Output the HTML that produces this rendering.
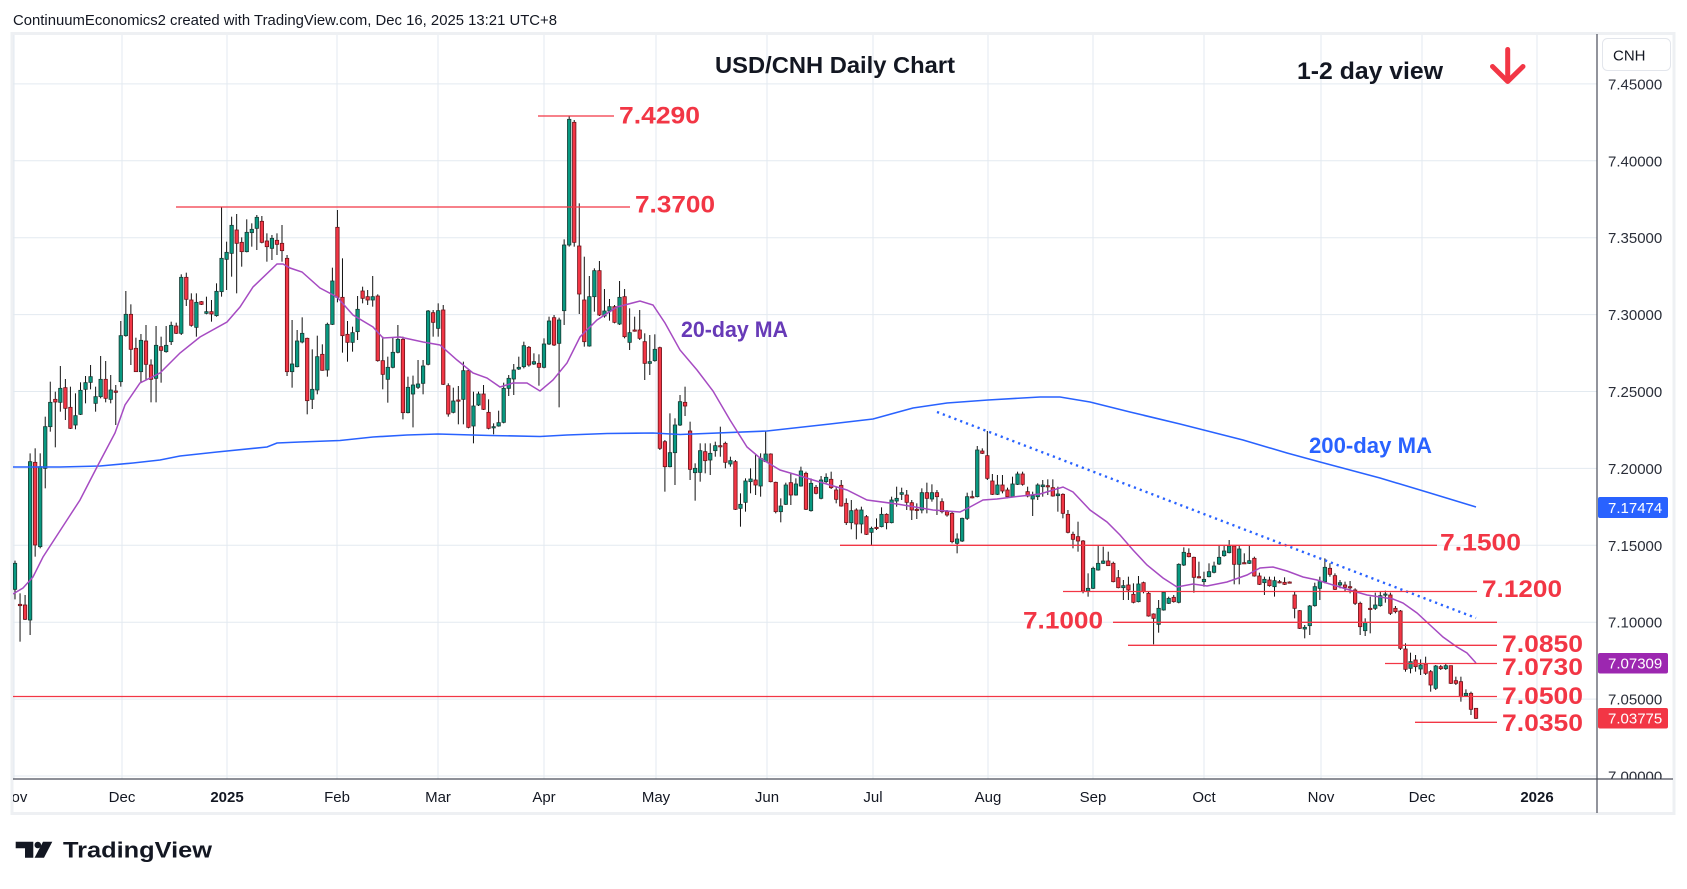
<!DOCTYPE html>
<html>
<head>
<meta charset="utf-8">
<style>
html,body{margin:0;padding:0;background:#ffffff;}
svg{display:block;}
text{font-family:"Liberation Sans",Arial,sans-serif;}
</style>
</head>
<body>
<svg id="chart" xmlns="http://www.w3.org/2000/svg" width="1687" height="889" viewBox="0 0 1687 889">
<defs>
<clipPath id="plot"><rect x="13" y="34" width="1584" height="745"/></clipPath>
<clipPath id="paxis"><rect x="1598" y="34" width="75" height="745"/></clipPath>
<clipPath id="taxis"><rect x="13" y="780" width="1584" height="33"/></clipPath>
</defs>
<rect x="0" y="0" width="1687" height="889" fill="#ffffff"/>

<!-- header -->
<text x="13" y="25" font-size="14.5" fill="#131722" textLength="544" lengthAdjust="spacingAndGlyphs">ContinuumEconomics2 created with TradingView.com, Dec 16, 2025 13:21 UTC+8</text>

<!-- panel border -->
<rect x="12" y="33.5" width="1662" height="780" fill="none" stroke="#eef0f3" stroke-width="3"/>

<!-- grid -->
<g stroke="#e3eaf0" stroke-width="1">
<line x1="13" y1="83.9" x2="1597" y2="83.9"/>
<line x1="13" y1="160.8" x2="1597" y2="160.8"/>
<line x1="13" y1="237.7" x2="1597" y2="237.7"/>
<line x1="13" y1="314.6" x2="1597" y2="314.6"/>
<line x1="13" y1="391.5" x2="1597" y2="391.5"/>
<line x1="13" y1="468.4" x2="1597" y2="468.4"/>
<line x1="13" y1="545.3" x2="1597" y2="545.3"/>
<line x1="13" y1="622.2" x2="1597" y2="622.2"/>
<line x1="13" y1="699.1" x2="1597" y2="699.1"/>
<line x1="13" y1="776" x2="1597" y2="776"/>
<line x1="14" y1="35" x2="14" y2="779"/>
<line x1="122" y1="35" x2="122" y2="779"/>
<line x1="227" y1="35" x2="227" y2="779"/>
<line x1="337" y1="35" x2="337" y2="779"/>
<line x1="438" y1="35" x2="438" y2="779"/>
<line x1="544" y1="35" x2="544" y2="779"/>
<line x1="656" y1="35" x2="656" y2="779"/>
<line x1="767" y1="35" x2="767" y2="779"/>
<line x1="873" y1="35" x2="873" y2="779"/>
<line x1="988" y1="35" x2="988" y2="779"/>
<line x1="1093" y1="35" x2="1093" y2="779"/>
<line x1="1204" y1="35" x2="1204" y2="779"/>
<line x1="1321" y1="35" x2="1321" y2="779"/>
<line x1="1422" y1="35" x2="1422" y2="779"/>
<line x1="1537" y1="35" x2="1537" y2="779"/>
</g>

<g clip-path="url(#plot)">
<g id="candles"></g>

<!-- 200-day MA -->
<polyline fill="none" stroke="#2962ff" stroke-width="1.6" points="13,467 60,467 100,466 133,463 160,460 180,456 217,452 267,447 277,443 300,442 340,440.5 373,437 407,435 438,434 490,435.5 540,436.5 567,435 607,433.5 653,433 680,434.5 767,431 830,424 873,419 913,408 947,403 988,400 1040,397 1060,397 1090,402 1130,412 1180,424 1243,440 1287,453 1320,462 1380,478 1430,493 1476,507"/>

<!-- 20-day MA -->
<polyline fill="none" stroke="#a64bc2" stroke-width="1.5" points="13,594 23,588 33,577 43,557 67,520 80,500 97,467 115,433 125,405 140,383 160,373 180,353 200,337 227,322 240,307 253,287 277,264 283,264 290,268 302,272 320,288 337,297 353,315 373,327 383,338 400,337 423,342 440,345 457,360 473,373 487,378 500,387 513,383 527,383 540,391 553,380 567,363 580,337 597,320 617,307 640,301 653,305 665,323 680,350 697,370 713,391 730,420 747,447 760,458 780,470 797,475 813,480 847,490 867,500 897,504 933,510 960,512 970,507 983,500 997,499 1013,497 1040,494 1063,487 1073,492 1090,510 1107,522 1120,535 1133,550 1147,565 1163,578 1177,587 1193,584 1207,586 1227,582 1247,575 1260,568 1273,567 1287,571 1303,577 1317,580 1333,585 1353,591 1367,595 1380,597 1393,599 1403,603 1417,613 1430,625 1443,637 1457,647 1467,653 1476,663"/>

<!-- dotted trendline -->
<line x1="937" y1="412" x2="1476" y2="618" stroke="#2962ff" stroke-width="2.4" stroke-dasharray="2.2 4"/>

<!-- red horizontal levels -->
<g stroke="#f23645" stroke-width="1.3">
<line x1="538" y1="116" x2="614" y2="116"/>
<line x1="176" y1="207" x2="630" y2="207"/>
<line x1="840" y1="545.3" x2="1437" y2="545.3"/>
<line x1="1063" y1="591.5" x2="1477" y2="591.5"/>
<line x1="1113" y1="622.3" x2="1497" y2="622.3"/>
<line x1="1128" y1="645.3" x2="1497" y2="645.3"/>
<line x1="1385" y1="663.5" x2="1497" y2="663.5"/>
<line x1="12" y1="696.5" x2="1497" y2="696.5"/>
<line x1="1415" y1="722.3" x2="1497" y2="722.3"/>
</g>
</g>

<!-- red level labels -->
<g font-size="24" font-weight="bold" fill="#f23645">
<text x="619" y="123.5" textLength="81" lengthAdjust="spacingAndGlyphs">7.4290</text>
<text x="635" y="212.5" textLength="80" lengthAdjust="spacingAndGlyphs">7.3700</text>
<text x="1440" y="550.5" textLength="81" lengthAdjust="spacingAndGlyphs">7.1500</text>
<text x="1482" y="597" textLength="80" lengthAdjust="spacingAndGlyphs">7.1200</text>
<text x="1023" y="628.5" textLength="80" lengthAdjust="spacingAndGlyphs">7.1000</text>
<text x="1502" y="652" textLength="81" lengthAdjust="spacingAndGlyphs">7.0850</text>
<text x="1502" y="675" textLength="81" lengthAdjust="spacingAndGlyphs">7.0730</text>
<text x="1502" y="704" textLength="81" lengthAdjust="spacingAndGlyphs">7.0500</text>
<text x="1502" y="731" textLength="81" lengthAdjust="spacingAndGlyphs">7.0350</text>
</g>

<!-- MA labels -->
<text x="681" y="337" font-size="22.5" font-weight="bold" fill="#673ab7" textLength="107" lengthAdjust="spacingAndGlyphs">20-day MA</text>
<text x="1309" y="453" font-size="22" font-weight="bold" fill="#2962ff" textLength="123" lengthAdjust="spacingAndGlyphs">200-day MA</text>

<!-- title -->
<text x="715" y="73" font-size="23" font-weight="bold" fill="#131722" textLength="240" lengthAdjust="spacingAndGlyphs">USD/CNH Daily Chart</text>
<text x="1297" y="79" font-size="24" font-weight="bold" fill="#131722" textLength="146" lengthAdjust="spacingAndGlyphs">1-2 day view</text>

<!-- arrow -->
<g stroke="#f23645" stroke-width="5" stroke-linecap="round" stroke-linejoin="round" fill="none">
<line x1="1507.7" y1="49.5" x2="1507.7" y2="81"/>
<polyline points="1492.5,66.5 1507.7,81.5 1523,66.5"/>
</g>

<!-- axes lines -->
<line x1="1597" y1="34" x2="1597" y2="813" stroke="#4a4e5a" stroke-width="1.2"/>
<line x1="13" y1="779" x2="1673" y2="779" stroke="#4a4e5a" stroke-width="1.2"/>

<!-- price axis labels -->
<g clip-path="url(#paxis)" font-size="15" fill="#2a2e39">
<text x="1608" y="89.4">7.45000</text>
<text x="1608" y="166.3">7.40000</text>
<text x="1608" y="243.2">7.35000</text>
<text x="1608" y="320.1">7.30000</text>
<text x="1608" y="397">7.25000</text>
<text x="1608" y="473.9">7.20000</text>
<text x="1608" y="550.8">7.15000</text>
<text x="1608" y="627.7">7.10000</text>
<text x="1608" y="704.6">7.05000</text>
<text x="1608" y="781.5">7.00000</text>
</g>

<!-- CNH box -->
<rect x="1602.5" y="38.5" width="68" height="32" rx="5" fill="#ffffff" stroke="#e3e6ec" stroke-width="1"/>
<text x="1613" y="60.5" font-size="15" fill="#131722">CNH</text>

<!-- colored price tags -->
<rect x="1598" y="497" width="70" height="21" rx="2" fill="#2962ff"/>
<text x="1608" y="513" font-size="15" fill="#ffffff">7.17474</text>
<rect x="1598" y="653" width="70" height="20.5" rx="2" fill="#9c27b0"/>
<text x="1608" y="668.7" font-size="15" fill="#ffffff">7.07309</text>
<rect x="1598" y="708" width="70" height="20.5" rx="2" fill="#f23645"/>
<text x="1608" y="723.7" font-size="15" fill="#ffffff">7.03775</text>

<!-- time axis labels -->
<g clip-path="url(#taxis)" font-size="15" fill="#131722" text-anchor="middle">
<text x="14" y="802">Nov</text>
<text x="122" y="802">Dec</text>
<text x="227" y="802" font-weight="bold">2025</text>
<text x="337" y="802">Feb</text>
<text x="438" y="802">Mar</text>
<text x="544" y="802">Apr</text>
<text x="656" y="802">May</text>
<text x="767" y="802">Jun</text>
<text x="873" y="802">Jul</text>
<text x="988" y="802">Aug</text>
<text x="1093" y="802">Sep</text>
<text x="1204" y="802">Oct</text>
<text x="1321" y="802">Nov</text>
<text x="1422" y="802">Dec</text>
<text x="1537" y="802" font-weight="bold">2026</text>
</g>

<!-- TradingView logo -->
<g fill="#131722">
<path d="M15.7 841.7 H33.3 V857.7 H25 V848.3 H15.7 Z"/>
<circle cx="37.8" cy="845" r="3.3"/>
<path d="M43 841.7 H52.3 L44 857.7 H34.6 Z"/>
</g>
<text x="63" y="857.7" font-size="22.5" font-weight="bold" fill="#131722" textLength="149" lengthAdjust="spacingAndGlyphs">TradingView</text>
</svg>

<script>
(function(){
var regions=[
{y0:190,d:[
[1120,1198,1112,1228,1],[1243,1247,1210,1355,0],[1245,1288,1215,1290,0],[815,1290,790,1335,1],[817,1065,775,1100,0],
[830,1070,790,1075,1],[710,835,680,895,1],[637,710,575,725,1],[628,636,605,772,0],[595,637,528,665,1],
[593,655,567,690,0],[652,715,590,717,0],[677,705,610,718,1],[601,673,577,675,1],[578,598,558,640,1],
[560,577,525,598,1],[620,640,590,665,1],[568,620,498,625,1],[568,625,513,637,0],[600,628,555,640,1],
[603,607,585,705,0],[437,575,393,590,1],[373,437,303,440,1],[373,478,343,525,0],[475,545,443,545,0],
[451,545,432,578,1],[453,523,405,570,0],[525,568,508,637,0],[466,565,408,637,1],[470,481,440,578,0],
[466,485,408,488,1],[406,455,395,465,1],[408,430,398,432,0],[262,430,253,435,1],[262,328,248,348,0],
[330,406,310,410,0],[337,412,310,440,1],[335,343,333,345,0],[365,370,320,373,1],[365,372,330,395,0],
[304,377,280,380,1],[205,305,52,320,1],[187,208,155,300,1],[106,190,80,260,1],[120,160,72,310,0],
[157,185,142,230,0],[127,185,88,187,1],[118,128,100,170,1],[82,115,75,180,1],[94,157,78,160,0],
[153,170,130,215,0],[145,175,135,210,1],[151,163,130,195,0],[160,182,105,215,0],[205,545,195,558,0],
[522,545,390,593,1],[453,530,420,532,1],[430,456,382,460,1],[445,632,443,673,0],[598,628,478,657,1],
[500,600,437,613,1],[493,541,463,542,0],[403,540,398,560,1],[273,403,233,405,1],[112,322,60,337,0],
[322,437,205,488,0],[433,457,393,515,0],[428,457,410,485,1],[358,425,318,450,1]
]},
{y0:90,d:[
[603,625,590,640,0],[620,630,600,645,0],[620,630,558,650,1],[618,812,613,815,0],[812,853,740,898,0],
[832,868,800,938,1],[787,832,742,835,1],[748,787,705,790,1],[748,968,740,988,0],[892,968,860,970,1],
[885,912,857,1012,1],[882,892,810,897,1],[828,880,810,913,1],[663,823,660,826,1],[668,697,660,740,0],
[662,715,640,740,1],[660,883,645,885,0],[887,972,880,980,0],[933,967,893,970,1],[930,933,888,1003,0],
[842,928,815,1003,1],[842,1012,838,1015,0],[948,1008,905,1060,1],[912,945,905,948,1],[912,958,885,960,0],
[967,1015,928,1018,0],[1010,1013,1000,1033,1],[998,1008,962,1010,1],[895,997,878,1000,1],[865,895,855,918,1],
[840,867,822,915,1],[832,837,800,840,1],[767,830,755,835,1],[772,825,768,830,0],[815,822,790,825,1],
[820,832,793,887,0],[762,832,745,835,1],[693,762,680,765,1],[683,765,675,768,0],[690,760,683,952,1],
[465,662,448,705,1],[88,465,77,470,1],[97,457,90,470,0],[468,612,340,672,0],[630,755,500,770,0],
[620,768,558,770,1],[542,620,535,665,1],[542,675,513,678,0],[663,678,597,683,1],[650,663,627,692,1],
[650,697,645,700,0],[622,702,573,705,1],[620,740,597,745,0],[728,757,655,780,1],[720,722,680,725,0],
[720,745,660,750,0],[755,820,730,870,0],[815,820,735,855,1],[778,812,733,815,1],[773,1075,770,1080,0],
[1055,1130,1050,1205,0],[1088,1130,970,1132,1],[1005,1088,985,1185,1],[935,1005,915,1008,1],[937,948,890,978,0],
[1023,1138,995,1170,0],[1135,1148,1120,1232,1]
]},
{y0:300,d:[
[452,517,430,545,1],[455,482,430,520,0],[460,480,430,525,1],[437,452,425,470,1],[437,440,380,470,0],
[430,487,425,505,0],[482,492,470,500,1],[485,628,480,630,0],[613,625,580,680,1],[543,607,535,635,1],
[537,545,505,580,1],[540,555,462,585,0],[475,558,460,590,1],[462,485,392,485,1],[462,545,460,547,0],
[547,635,545,640,0],[618,635,595,667,1],[555,613,548,615,1],[548,585,520,615,0],[552,585,535,587,1],
[513,558,500,560,1],[520,628,515,630,0],[550,632,535,635,1],[562,580,555,583,0],[540,595,528,598,1],
[532,545,520,550,1],[538,563,515,567,0],[570,598,560,610,0],[556,618,540,620,0],[610,668,595,675,0],
[632,668,600,688,1],[630,672,625,718,0],[630,672,620,700,1],[650,703,645,705,0],[685,697,680,735,1],
[682,685,655,690,0],[643,680,622,682,1],[643,668,640,688,0],[600,668,590,670,1],[595,603,560,620,1],
[578,583,563,600,1],[585,607,570,630,0],[608,630,600,660,0],[628,631,610,657,0],[578,630,565,640,1],
[578,595,548,640,0],[578,597,553,605,1],[578,590,570,645,0],[605,635,595,640,0],[635,645,630,650,0],
[640,725,635,730,0],[717,730,700,760,1],[655,723,653,726,1],[590,655,578,660,1],[590,593,572,595,0],
[450,590,438,592,1],[453,460,445,462,0],[467,535,393,540,0],[543,583,522,585,0],[555,583,525,585,1],
[555,573,525,580,0],[570,590,563,595,0],[552,590,530,592,1],[522,553,515,555,1],[522,553,515,557,0],
[575,588,560,592,0],[587,597,575,648,1],[555,590,550,600,1]
]},
{y0:440,d:[
[135,140,120,170,1],[137,140,118,165,0],[143,168,118,170,0],[162,167,140,215,1],[163,220,160,235,0],
[223,277,210,280,0],[283,298,275,325,0],[290,303,245,335,0],[303,453,300,460,0],[445,453,400,470,1],
[385,445,380,447,1],[370,390,318,392,1],[363,370,320,372,1],[363,377,335,378,0],[370,425,365,427,0],
[413,443,390,445,0],[437,443,420,480,1],[435,450,410,480,0],[463,487,430,490,0],[432,485,408,487,1],
[428,455,425,460,0],[460,528,455,530,0],[522,535,520,613,0],[505,553,480,578,1],[457,510,455,512,1],
[475,490,470,492,1],[472,485,465,488,0],[373,487,370,490,1],[337,375,322,378,1],[340,350,325,352,0],
[352,412,350,458,0],[410,413,365,415,0],[418,425,395,440,1],[395,410,370,412,1],[378,397,365,400,1],
[352,372,318,375,1],[333,347,318,350,1],[318,338,300,340,1],[318,373,315,433,0],[327,373,318,433,1],
[368,370,340,372,0],[362,370,318,372,1],[355,408,350,410,0],[408,433,398,435,0],[418,428,410,465,1],
[420,437,410,440,0],[422,440,410,470,1],[425,427,420,430,0],[427,433,412,435,0],[426,428,424,430,0],
[465,505,455,535,0],[512,565,510,567,0],[562,567,555,595,1],[498,557,495,585,1],[440,497,428,500,1]
]},
{y0:520,d:[
[185,205,170,240,1],[142,185,115,190,1],[145,163,130,170,0],[167,208,160,210,0],[188,195,180,205,1],
[195,202,185,215,0],[200,202,183,220,0],[210,250,205,255,0],[250,320,245,345,0],[308,332,295,348,1],
[265,268,230,340,0],[255,265,218,270,1],[227,257,215,260,1],[222,224,212,248,1],[225,280,218,285,0],
[265,275,258,280,0],[273,385,270,390,0],[387,448,370,455,0],[425,445,398,460,1],[420,440,405,455,0],
[435,447,418,465,1],[432,460,410,465,0],[455,495,450,515,0],[438,505,435,510,1],[440,446,435,450,0],
[437,446,432,450,1],[437,490,437,492,0],[482,490,470,495,0],[485,530,470,545,0],[520,527,508,530,1],
[520,568,515,585,0],[565,595,565,597,0]
]}
];
var NS="http://www.w3.org/2000/svg";
var g=document.getElementById("candles");
var idx=0;
for(var r=0;r<regions.length;r++){
  var y0=regions[r].y0, d=regions[r].d;
  for(var k=0;k<d.length;k++){
    var c=d[k];
    var x=15+idx*5.038;
    var bt=y0+c[0]/3, bb=y0+c[1]/3, wt=y0+c[2]/3, wb=y0+c[3]/3;
    var up=c[4]===1;
    var w=document.createElementNS(NS,"line");
    w.setAttribute("x1",x.toFixed(2));w.setAttribute("x2",x.toFixed(2));
    w.setAttribute("y1",Math.min(wt,bt).toFixed(2));w.setAttribute("y2",Math.max(wb,bb).toFixed(2));
    w.setAttribute("stroke","#111111");w.setAttribute("stroke-width","1");
    g.appendChild(w);
    var h=bb-bt; if(h<1.2){h=1.2;}
    var b=document.createElementNS(NS,"rect");
    b.setAttribute("x",(x-1.7).toFixed(2));b.setAttribute("width","3.4");
    b.setAttribute("y",bt.toFixed(2));b.setAttribute("height",h.toFixed(2));
    b.setAttribute("fill",up?"#089981":"#f23645");
    b.setAttribute("stroke",up?"#173a33":"#6e1219");
    b.setAttribute("stroke-width","0.8");
    g.appendChild(b);
    idx++;
  }
}
})();
</script>
</body>
</html>
